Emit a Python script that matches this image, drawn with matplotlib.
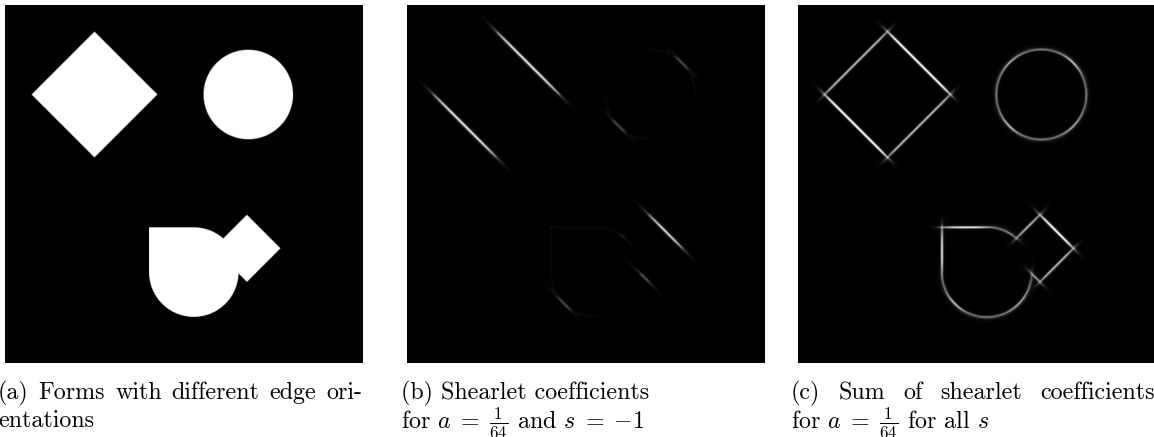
import numpy as np
import matplotlib.pyplot as plt

# Test image geometry, in pixels of a 256 x 256 grid (x right, y down)
diamond_center = (64, 64)
diamond_half_diag = 45
disc_center = (174, 64)
disc_radius = 32
drop_center = (135, 191)
drop_radius = 32
small_diamond_center = (173, 174)
small_diamond_half_diag = 24

# Shearlet parameters
scale_a = 1 / 64
shear_b = -1
shears = np.arange(-8, 9) / 8  # shear steps of a**(1/2) in each cone

N = 512
k = N / 256
yy, xx = np.mgrid[0:N, 0:N] + 0.5


def sd_diamond(c, h):
    return (np.abs(xx - c[0] * k) + np.abs(yy - c[1] * k) - h * k) / np.sqrt(2)


def sd_disc(c, r):
    return np.hypot(xx - c[0] * k, yy - c[1] * k) - r * k


def sd_box(x0, y0, x1, y1):
    cx, cy = (x0 + x1) / 2 * k, (y0 + y1) / 2 * k
    hx, hy = (x1 - x0) / 2 * k, (y1 - y0) / 2 * k
    qx = np.abs(xx - cx) - hx
    qy = np.abs(yy - cy) - hy
    return np.hypot(np.maximum(qx, 0), np.maximum(qy, 0)) + np.minimum(np.maximum(qx, qy), 0)


# drop = disc with its upper-left quarter squared off
cx, cy = drop_center
drop = np.minimum(sd_disc(drop_center, drop_radius),
                  sd_box(cx - drop_radius, cy - drop_radius, cx, cy))
dist = np.minimum.reduce([sd_diamond(diamond_center, diamond_half_diag),
                          sd_disc(disc_center, disc_radius),
                          drop,
                          sd_diamond(small_diamond_center, small_diamond_half_diag)])
img = np.clip(0.5 - dist, 0, 1)

# frequency plane
F = np.fft.fft2(img)
f = np.fft.fftfreq(N)
FX, FY = np.meshgrid(f, f)
R = np.hypot(FX, FY)
theta = np.arctan2(FY, FX)
# finest band (a = 1/64) -> high radial frequencies
band = np.exp(-0.5 * (np.log2(np.maximum(R, 1e-9) / 0.3) / 0.7) ** 2)


def coef(angle, width=0.05, leak=0.0):
    # one-sided wedge -> complex coefficients, modulus gives a single ridge
    d = np.angle(np.exp(1j * (theta - angle)))
    wedge = np.exp(-0.5 * (d / width) ** 2) + leak * np.exp(-0.5 * (d / 0.6) ** 2)
    return np.abs(np.fft.ifft2(F * band * wedge))


# horizontal cone: slope FY/FX = s, vertical cone: FX/FY = s
angles = np.unique(np.round(np.concatenate([np.arctan(shears),
                                            np.pi / 2 - np.arctan(shears)]), 6))
coef_b = coef(np.arctan(shear_b), width=0.035, leak=0.14)
coef_c = np.sqrt(sum(coef(t) ** 2 for t in angles))

# ridge height halfway along the upper-left edge of the big diamond
mx = int((diamond_center[0] - diamond_half_diag / 2) * k)
my = int((diamond_center[1] - diamond_half_diag / 2) * k)
edge_peak = coef_c[my - 6:my + 6, mx - 6:mx + 6].max()

shown_b = (coef_b / coef_b.max()) ** 1.35
shown_c = 0.8 * np.clip(coef_c / edge_peak, 0, 1.25) ** 1.6

W, H = 1154, 437
fig = plt.figure(figsize=(W / 100, H / 100), dpi=100)
plt.rcParams['mathtext.fontset'] = 'cm'

for x0, data in [(5, img), (407, shown_b), (798, shown_c)]:
    ax = fig.add_axes([x0 / W, (H - 363) / H, 358 / W, 358 / H])
    ax.imshow(data, cmap='gray', vmin=0, vmax=1, interpolation='antialiased')
    ax.set_axis_off()

fs = 17.3
kw = dict(fontsize=fs, family='cmr10', va='baseline', ha='left')
renderer = fig.canvas.get_renderer()


def put(x, y, s):
    return fig.text(x / W, 1 - y / H, s, **kw)


def justified(words, x0, x1, y):
    arts = [put(x0, y, w) for w in words]
    widths = [a.get_window_extent(renderer).width for a in arts]
    gap = (x1 - x0 - sum(widths)) / (len(words) - 1)
    x = x0
    for a, w in zip(arts, widths):
        a.set_x(x / W)
        x += w + gap


y1, y2 = 399, 427
justified(["(a)", "Forms", "with", "different", "edge", "ori-"], -2, 362, y1)
put(-2, y2, "entations")

put(401, y1, "(b) Shearlet coefficients")
put(401, y2, r"for $a\;=\;\frac{1}{64}$ and $s\;=\;{-1}$")

justified(["(c)", "Sum", "of", "shearlet", "coefficients"], 791, 1155, y1)
put(791, y2, r"for $a\;=\;\frac{1}{64}$ for all $s$")

fig.savefig("out.png", dpi=100)
